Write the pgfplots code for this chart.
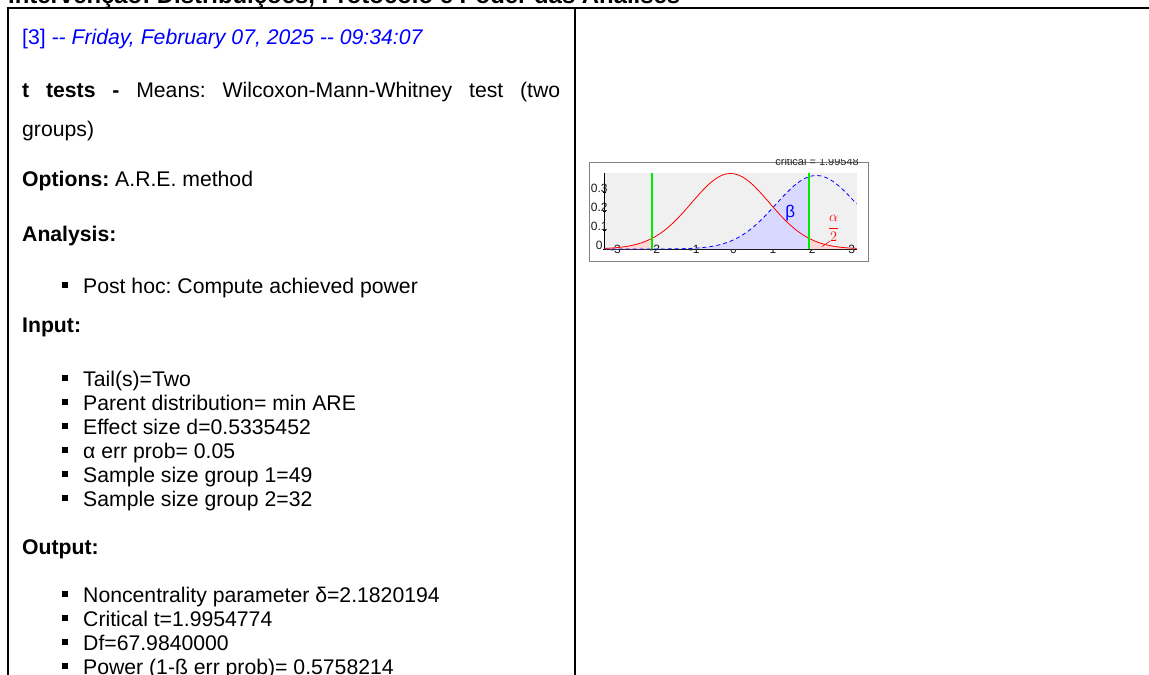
\documentclass[border=0pt]{standalone}
\usepackage{pgfplots}
\pgfplotsset{compat=1.18}
\usepackage{pgfplotstable}
\usepackage{fontspec}
\setmainfont{Liberation Sans}
\frenchspacing
\newcommand\fs{\fontsize{21.2bp}{25bp}\selectfont}
\newcommand\dd{\hbox{-}\hbox{-}}
\definecolor{critgreen}{RGB}{0,235,0}

\pgfplotstableread{
x t nct
-3.2 0.0031 0.0000
-3.1 0.0042 0.0000
-3.0 0.0054 0.0000
-2.9 0.0071 0.0000
-2.8 0.0092 0.0000
-2.7 0.0119 0.0000
-2.6 0.0151 0.0000
-2.5 0.0191 0.0000
-2.4 0.0240 0.0000
-2.3 0.0300 0.0000
-2.2 0.0371 0.0000
-2.1 0.0455 0.0000
-2.0 0.0553 0.0001
-1.9955 0.0558 0.0001
-1.9 0.0667 0.0001
-1.8 0.0798 0.0002
-1.7 0.0946 0.0003
-1.6 0.1111 0.0005
-1.5 0.1293 0.0007
-1.4 0.1491 0.0009
-1.3 0.1704 0.0013
-1.2 0.1929 0.0018
-1.1 0.2163 0.0024
-1.0 0.2402 0.0033
-0.9 0.2642 0.0044
-0.8 0.2877 0.0059
-0.7 0.3103 0.0078
-0.6 0.3313 0.0101
-0.5 0.3502 0.0131
-0.4 0.3665 0.0168
-0.3 0.3797 0.0213
-0.2 0.3895 0.0268
-0.1 0.3955 0.0334
0.0 0.3975 0.0412
0.1 0.3955 0.0504
0.2 0.3895 0.0610
0.3 0.3797 0.0732
0.4 0.3665 0.0870
0.5 0.3502 0.1023
0.6 0.3313 0.1193
0.7 0.3103 0.1378
0.8 0.2877 0.1577
0.9 0.2642 0.1788
1.0 0.2402 0.2008
1.1 0.2163 0.2233
1.2 0.1929 0.2461
1.3 0.1704 0.2687
1.4 0.1491 0.2905
1.5 0.1293 0.3112
1.6 0.1111 0.3303
1.7 0.0946 0.3472
1.8 0.0798 0.3615
1.9 0.0667 0.3730
1.9955 0.0558 0.3807
2.0 0.0553 0.3811
2.1 0.0455 0.3858
2.2 0.0371 0.3869
2.3 0.0300 0.3844
2.4 0.0240 0.3783
2.5 0.0191 0.3688
2.6 0.0151 0.3561
2.7 0.0119 0.3407
2.8 0.0092 0.3229
2.9 0.0071 0.3031
3.0 0.0054 0.2819
3.1 0.0042 0.2597
3.2 0.0031 0.2370
}\dist

\begin{document}
\begin{tikzpicture}[x=1bp,y=1bp]
\useasboundingbox (0,0) rectangle (1149,-675);
\begin{scope}
\clip (0,0) rectangle (1149,-675);
% title (cut at the top)
\node[anchor=base west, inner sep=0] at (8,-3.5) {\fontsize{23.9bp}{27bp}\selectfont\bfseries Intervenção: Distribuições, Protocolo e Poder das Análises};
% table rules
\draw[line width=2bp] (6.5,-8) -- (1160,-8);
\draw[line width=2bp] (7.5,-8) -- (7.5,-690);
\draw[line width=2bp] (575,-8) -- (575,-690);
% left cell
\node[anchor=base west, inner sep=0, text=blue] at (22,-45) {\fs [3] \itshape\dd\ Friday, February 07, 2025 \dd\ 09:34:07};
\node[anchor=base west, inner sep=0] at (22,-98) {\fs\hbox to 538bp{\textbf{t}\hfill\textbf{tests}\hfill\textbf{-}\hfill Means:\hfill Wilcoxon-Mann-Whitney\hfill test\hfill (two}};
\node[anchor=base west, inner sep=0] at (22,-137) {\fs groups)};
\node[anchor=base west, inner sep=0] at (22,-187) {\fs\textbf{Options:} A.R.E. method};
\node[anchor=base west, inner sep=0] at (22,-241) {\fs\textbf{Analysis:}};
\node[anchor=base west, inner sep=0] at (22,-332) {\fs\textbf{Input:}};
\node[anchor=base west, inner sep=0] at (22,-554) {\fs\textbf{Output:}};
\foreach \yy/\tx in {293/{Post hoc: Compute achieved power},
  386/{Tail(s)=Two}, 410/{Parent distribution= min ARE}, 434/{Effect size d=0.5335452},
  458/{α err prob= 0.05}, 482/{Sample size group 1=49}, 506/{Sample size group 2=32},
  602/{Noncentrality parameter δ=2.1820194}, 626/{Critical t=1.9954774},
  650/{Df=67.9840000}, 674/{Power (1-ß err prob)= 0.5758214}}{
  \fill (62,-\yy+11) rectangle (68,-\yy+5);
  \node[anchor=base west, inner sep=0] at (83,-\yy) {\fs\tx};
}
\end{scope}
% chart image
\begin{scope}
\clip (588,-160) rectangle (870,-263);
\draw[fill=white, draw=gray, line width=1bp] (589,-163) rectangle (868,-261);
\node[anchor=base east, inner sep=0, text=black!85] at (859,-166) {\fontsize{11bp}{11bp}\selectfont critical = 1.99548};
\begin{axis}[
 at={(604.5bp,-249bp)}, anchor=south west, scale only axis,
 width=252bp, height=76bp,
 xmin=-3.2, xmax=3.2, ymin=0, ymax=0.4,
 axis x line=bottom, axis y line=left,
 axis line style={-, black, line width=0.7bp},
 every tick/.style={black, line width=0.5bp},
 major tick length=2.5bp,
 xtick={-3,-2,-1,0,1,2,3}, ytick={0,0.1,0.2,0.3},
 /pgf/number format/assume math mode=true,
 ticklabel style={font=\fontsize{12bp}{12bp}\selectfont, inner sep=0pt, text=black!90},
 xticklabel style={anchor=center, xshift=3bp, yshift=0.5bp},
 yticklabel style={anchor=center, xshift=-4bp, yshift=4bp},
 axis background/.style={fill=gray!12},
 clip=false,
]
\addplot[draw=none, fill=blue!15, restrict x to domain=-3.3:1.996] table[x=x, y=nct] {\dist} \closedcycle;
\addplot[draw=none, fill=red!15, restrict x to domain=-3.3:-1.995] table[x=x, y=t] {\dist} \closedcycle;
\addplot[draw=none, fill=red!15, restrict x to domain=1.995:3.3] table[x=x, y=t] {\dist} \closedcycle;
\addplot[blue, line width=0.8bp, dash pattern=on 4bp off 3bp] table[x=x, y=nct] {\dist};
\addplot[red, line width=0.8bp] table[x=x, y=t] {\dist};
\addplot[draw=critgreen, line width=1.2bp, no marks] coordinates {(-1.9955,0) (-1.9955,0.4)};
\addplot[draw=critgreen, line width=1.2bp, no marks] coordinates {(1.9955,0) (1.9955,0.4)};
\addplot[red, line width=0.6bp] coordinates {(2.32,0.012) (2.53,0.042)};
\node[text=blue, inner sep=0] at (axis cs:1.52,0.19) {\fontsize{17bp}{17bp}\selectfont β};
\node[text=red, inner sep=0] at (axis cs:2.62,0.108) {\fontsize{14bp}{14bp}\selectfont$\displaystyle\frac{\alpha}{2}$};
\end{axis}
\end{scope}
\end{tikzpicture}
\end{document}
